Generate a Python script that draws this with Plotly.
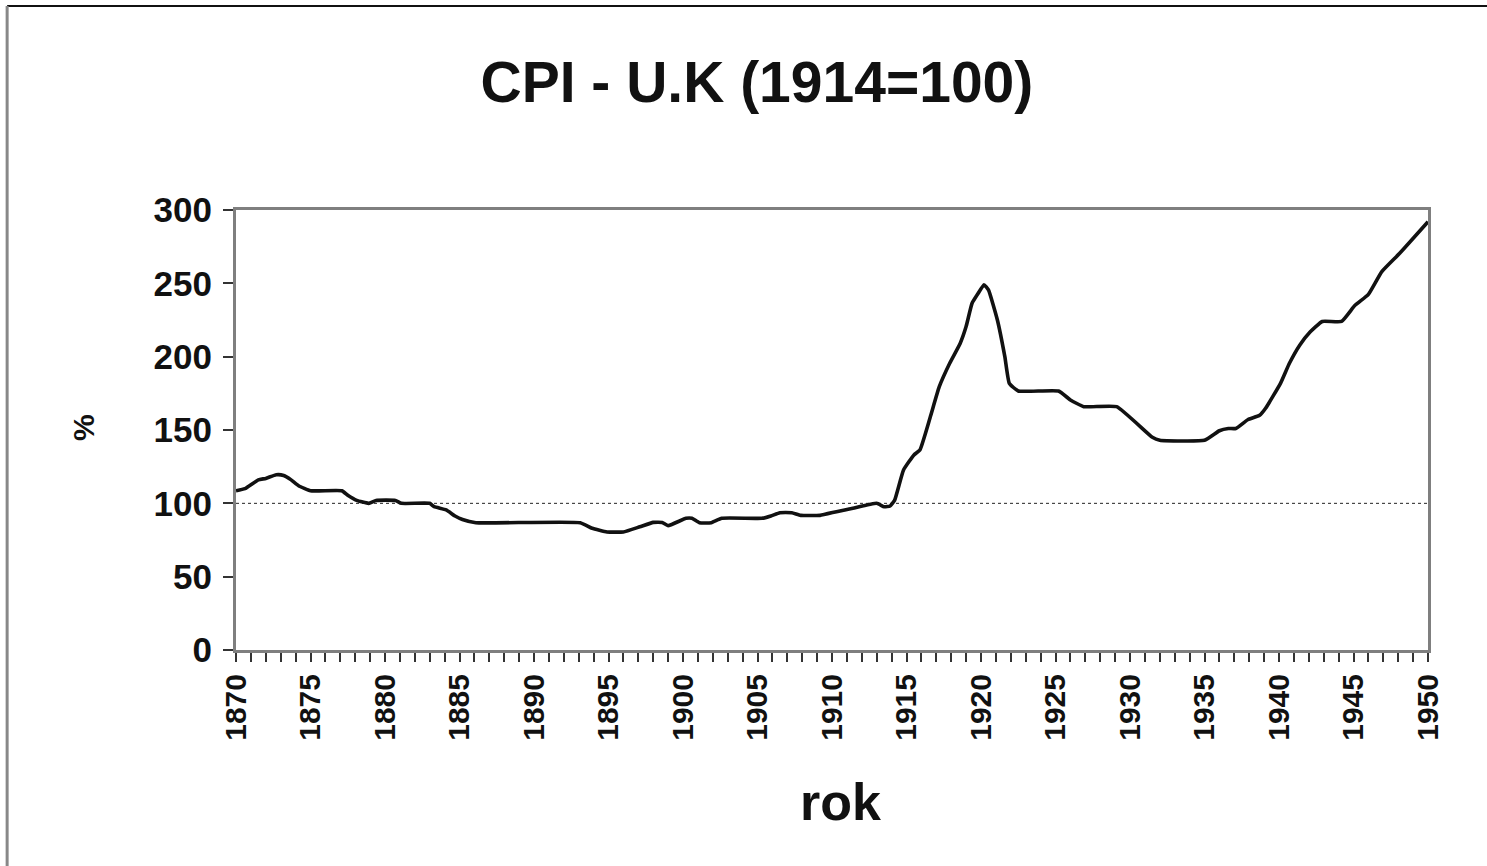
import plotly.graph_objects as go

# UK consumer price index, 1914 = 100
years = [1870.0, 1870.6, 1871.5, 1872.0, 1872.7, 1873.2, 1873.7, 1874.2, 1875.0, 1877.1,
         1877.5, 1878.1, 1878.9, 1879.4, 1880.7, 1881.1, 1883.0, 1883.3, 1884.1, 1884.7,
         1885.2, 1886.1, 1893.1, 1893.9, 1894.9, 1896.0, 1897.1, 1898.0, 1898.6, 1899.0,
         1900.2, 1900.6, 1901.1, 1901.9, 1902.6, 1905.3, 1905.9, 1906.5, 1907.3, 1907.9,
         1909.2, 1910.3, 1911.4, 1913.0, 1913.5, 1913.9, 1914.2, 1914.8, 1915.5, 1915.9,
         1916.6, 1917.2, 1917.9, 1918.6, 1919.0, 1919.4, 1919.8, 1920.2, 1920.5, 1921.1,
         1921.6, 1921.9, 1922.5, 1925.2, 1926.0, 1926.9, 1929.1, 1931.5, 1932.0, 1935.0,
         1936.0, 1936.6, 1937.1, 1937.9, 1938.7, 1939.1, 1940.1, 1940.7, 1941.4, 1942.1,
         1942.9, 1944.2, 1945.1, 1946.0, 1946.9, 1948.1, 1950.0]
cpi = [108.6, 110.0, 116.0, 117.0, 119.5, 119.0, 116.0, 112.0, 108.6, 108.6,
       105.5, 102.0, 100.0, 102.0, 102.0, 100.0, 100.0, 97.7, 95.5, 91.4,
       89.0, 86.8, 86.8, 83.0, 80.5, 80.5, 84.0, 87.0, 87.0, 84.8,
       89.8, 89.8, 86.8, 86.8, 89.8, 89.8, 91.4, 93.6, 93.6, 91.8,
       91.8, 94.3, 96.6, 100.0, 97.7, 98.2, 102.0, 122.7, 133.0, 136.4,
       159.0, 179.5, 195.5, 209.0, 220.5, 236.4, 243.0, 249.0, 245.5, 225.0,
       200.0, 181.8, 176.6, 176.6, 170.5, 165.9, 165.9, 145.0, 143.0, 143.0,
       149.5, 151.0, 151.0, 157.0, 160.0, 164.8, 181.8, 195.5, 208.0, 217.0,
       224.0, 224.0, 235.0, 242.5, 258.0, 270.5, 292.0]

base_level = 100
x_ticks = list(range(1870, 1951, 5))
y_ticks = [0, 50, 100, 150, 200, 250, 300]

FONT = "Liberation Sans, Arial, sans-serif"

fig = go.Figure()
fig.add_trace(go.Scatter(
    x=years, y=cpi, mode="lines",
    line=dict(color="#111111", width=3.6, shape="spline", smoothing=0.4),
    showlegend=False, hoverinfo="x+y",
))

# dotted reference level
fig.add_shape(type="line", xref="x", yref="y", x0=1870, x1=1950,
              y0=base_level, y1=base_level,
              line=dict(color="#222222", width=1, dash="dot"), layer="below")

# outer chart frame (top and left edges)
fig.add_shape(type="line", xref="paper", yref="paper", x0=-0.192, x1=1.06,
              y0=1.4636, y1=1.4636, line=dict(color="#111111", width=2))
fig.add_shape(type="line", xref="paper", yref="paper", x0=-0.192, x1=-0.192,
              y0=-0.6, y1=1.4636, line=dict(color="#888888", width=3))

fig.update_layout(
    width=1487, height=866,
    margin=dict(l=236, r=59, t=210, b=216),
    paper_bgcolor="white", plot_bgcolor="white",
    font=dict(family=FONT, color="#111111"),
    title=dict(text="<b>CPI - U.K (1914=100)</b>", x=0.509, xref="container",
               xanchor="center", y=0.905, yref="container", yanchor="middle",
               font=dict(family=FONT, size=57, color="#111111")),
    xaxis=dict(
        range=[1870, 1950], tickmode="array", tickvals=x_ticks,
        ticktext=["<b>%d</b>" % v for v in x_ticks], tickangle=-90,
        tickfont=dict(family=FONT, size=30, color="#111111"),
        ticks="outside", ticklen=9, tickwidth=1.5, tickcolor="#333333",
        minor=dict(tickvals=list(range(1870, 1951)), ticks="outside",
                   ticklen=9, tickwidth=1.5, tickcolor="#333333"),
        showline=True, linecolor="#7f7f7f", linewidth=3, mirror=True,
        showgrid=False, zeroline=False, ticklabelstandoff=0,
        fixedrange=True,
    ),
    yaxis=dict(
        range=[0, 300], tickmode="array", tickvals=y_ticks,
        ticktext=["<b>%d</b>" % v for v in y_ticks],
        tickfont=dict(family=FONT, size=35, color="#111111"),
        ticks="outside", ticklen=10, tickwidth=1.5, tickcolor="#333333",
        showline=True, linecolor="#7f7f7f", linewidth=3, mirror=True,
        showgrid=False, zeroline=False, ticklabelstandoff=4,
        fixedrange=True,
    ),
    annotations=[
        dict(text="<b>rok</b>", xref="paper", yref="paper",
             x=(840 - 236) / 1192, y=(650 - 802) / 440,
             xanchor="center", yanchor="middle", showarrow=False,
             font=dict(family=FONT, size=52, color="#111111")),
        dict(text="<b>%</b>", xref="paper", yref="paper",
             x=(83 - 236) / 1192, y=(650 - 428) / 440,
             xanchor="center", yanchor="middle", showarrow=False, textangle=-90,
             font=dict(family=FONT, size=30, color="#111111")),
    ],
)

fig.write_html("out.html")
